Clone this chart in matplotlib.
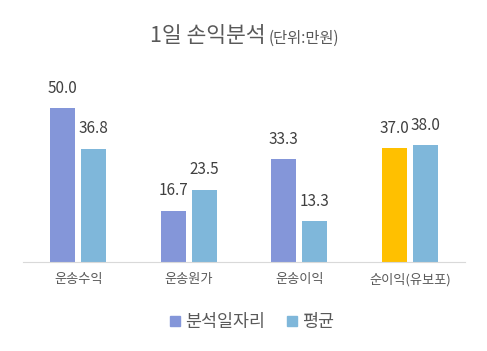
import matplotlib
matplotlib.use("Agg")
import matplotlib.pyplot as plt
import numpy as np
from matplotlib.patches import Patch

plt.rcParams['font.family'] = ['Noto Sans CJK KR', 'DejaVu Sans']

categories = ['운송수익', '운송원가', '운송이익', '순이익(유보포)']
series_names = ['분석일자리', '평균']
analysis = [50.0, 16.7, 33.3, 37.0]
average = [36.8, 23.5, 13.3, 38.0]

c_analysis = '#8496D9'
c_average = '#7FB7DA'
c_highlight = '#FFC000'

fig = plt.figure(figsize=(4.87, 3.51), dpi=100)
ax = fig.add_axes([23/487, 89/351, 442/487, 185/351])

x = np.arange(len(categories))
w = 0.226
off = 0.14
cols = [c_analysis] * (len(categories) - 1) + [c_highlight]
b1 = ax.bar(x - off, analysis, w, color=cols, label=series_names[0])
b2 = ax.bar(x + off, average, w, color=c_average, label=series_names[1])

for bars, vals in ((b1, analysis), (b2, average)):
    for r, v in zip(bars, vals):
        ax.annotate(f'{v:.1f}', (r.get_x() + r.get_width() / 2, v),
                    xytext=(0, 8), textcoords='offset points',
                    ha='center', va='bottom', fontsize=11, color='#404040')

ax.set_xlim(-0.5, len(categories) - 0.5)
ax.set_ylim(0, 60)
ax.set_xticks(x)
ax.set_xticklabels(categories, fontsize=9.5, color='#595959')
ax.tick_params(axis='x', length=0, pad=8)
ax.set_yticks([])
for s in ['top', 'right', 'left']:
    ax.spines[s].set_visible(False)
ax.spines['bottom'].set_color('#D9D9D9')

fig.text(265/487, 1 - 36/351, '1일 손익분석', ha='right', va='center',
         fontsize=15.5, color='#595959')
fig.text(269/487, 1 - 38/351, '(단위:만원)', ha='left', va='center',
         fontsize=11, color='#595959')

handles = [Patch(color=c_analysis), Patch(color=c_average)]
fig.legend(handles, series_names, loc='center', bbox_to_anchor=(252/487, 1 - 322/351),
           ncol=2, frameon=False, fontsize=12.5, handlelength=0.55, handleheight=0.55,
           handletextpad=0.3, columnspacing=1.3, labelcolor='#595959')

fig.savefig('out.png', dpi=100)
